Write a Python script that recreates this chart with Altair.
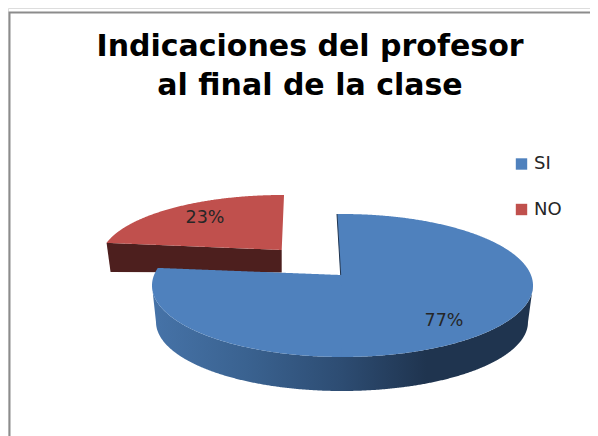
import math
import altair as alt
import pandas as pd
import numpy as np

# ---- chart content
title_lines = ["Indicaciones del profesor", "al final de la clase"]
categories = ["SI", "NO"]
percent_values = [77, 23]
colors = ["#4F81BD", "#C0504D"]
text_color = "#262626"

# ---- 3D pie layout, in the scale's own units
W, H = 582, 428
x_scale = alt.Scale(domain=[8, 8 + W], nice=False, zero=False)
y_scale = alt.Scale(domain=[8 + H, 8], nice=False, zero=False)


def ell_hit(ell, apex, a_deg):
    cx, cy, rx, ry = ell
    a = math.radians(a_deg)
    dx, dy = math.sin(a), -math.cos(a) * ry / rx
    ox, oy = (apex[0] - cx) / rx, (apex[1] - cy) / ry
    ux, uy = dx / rx, dy / ry
    A = ux * ux + uy * uy
    B = 2 * (ox * ux + oy * uy)
    C = ox * ox + oy * oy - 1
    t = (-B + math.sqrt(B * B - 4 * A * C)) / (2 * A)
    return apex[0] + t * dx, apex[1] + t * dy


def half(ell, x, sign):
    cx, cy, rx, ry = ell
    u = np.clip((np.asarray(x, dtype=float) - cx) / rx, -1, 1)
    return cy + sign * ry * np.sqrt(1 - u * u)


def line_y(p, q, x):
    return p[1] + (q[1] - p[1]) * (np.asarray(x, dtype=float) - p[0]) / (q[0] - p[0])


def xs_between(ell, a, b, extra=()):
    cx, _, rx, _ = ell
    t = np.linspace(0, math.pi, 500)
    xx = cx - rx * np.cos(t)
    xx = xx[(xx > a) & (xx < b)]
    return np.unique(np.concatenate([[a, b], xx, list(extra)]))


def frame(x, y, y2):
    return pd.DataFrame({"x": x, "y": y, "y2": y2})


def area(df, paint):
    return alt.Chart(df).mark_area(color=paint, interpolate="linear", stroke=None).encode(
        x=alt.X("x:Q", scale=x_scale, axis=None),
        y=alt.Y("y:Q", scale=y_scale, axis=None),
        y2="y2:Q",
    )


span_si = 360 * percent_values[0] / 100
span_no = 360 * percent_values[1] / 100

# SI slice
si_ell = (342.5, 285.5, 190.5, 71.5)
si_apex = (340.7, 275.0)
si_start = ell_hit(si_ell, si_apex, -1.3)
si_end = ell_hit(si_ell, si_apex, -1.3 + span_si)
si_left, si_right = si_ell[0] - si_ell[2], si_ell[0] + si_ell[2]

xa = xs_between(si_ell, si_start[0], si_right, [si_apex[0], si_apex[0] + 0.01])
si_a = frame(xa, half(si_ell, xa, -1),
             np.where(xa <= si_apex[0], line_y(si_apex, si_start, xa), half(si_ell, xa, 1)))
xb = xs_between(si_ell, si_left, si_apex[0] + 0.5, [si_end[0]])
si_b = frame(xb, np.where(xb < si_end[0], half(si_ell, xb, -1), line_y(si_apex, si_end, xb)),
             half(si_ell, xb, 1))

si_floor = (342.0, 322.0, 186.0, 69.0)
xw = xs_between(si_ell, si_left, si_right, [si_floor[0] - si_floor[2], si_floor[0] + si_floor[2]])
floor_y = half(si_floor, xw, 1)
floor_y = np.where(xw < si_floor[0] - si_floor[2],
                   line_y((si_left, si_ell[1]), (si_floor[0] - si_floor[2], si_floor[1]), xw), floor_y)
floor_y = np.where(xw > si_floor[0] + si_floor[2],
                   line_y((si_right, si_ell[1]), (si_floor[0] + si_floor[2], si_floor[1]), xw), floor_y)
si_wall = frame(xw, half(si_ell, xw, 1), floor_y)

wall_gradient = alt.Gradient(
    gradient="linear", x1=0, x2=1, y1=0, y2=0,
    stops=[
        alt.GradientStop(color="#4673A8", offset=0),
        alt.GradientStop(color="#3A6290", offset=0.25),
        alt.GradientStop(color="#2D4C72", offset=0.5),
        alt.GradientStop(color="#1F344F", offset=0.72),
        alt.GradientStop(color="#1F344F", offset=1),
    ],
)

# NO slice (pulled out)
no_ell = (282.4, 259.5, 182.0, 64.5)
no_apex = (281.7, 250.0)
no_start = ell_hit(no_ell, no_apex, 360.86)
no_end = ell_hit(no_ell, no_apex, 360.86 - span_no - 1.5)
xr = xs_between(no_ell, no_end[0], no_start[0], [no_apex[0]])
no_top = frame(xr, half(no_ell, xr, -1),
               np.where(xr <= no_apex[0], line_y(no_apex, no_end, xr), line_y(no_apex, no_start, xr)))

no_wall_x = np.array([no_end[0], no_end[0] + 4, no_apex[0]])
no_wall = frame(no_wall_x, line_y(no_apex, no_end, no_wall_x),
                [line_y(no_apex, no_end, no_end[0]), 272.0, 272.5])

edge = pd.DataFrame({"x": [si_start[0], si_apex[0]], "y": [si_start[1], si_apex[1]]})
edge_line = alt.Chart(edge).mark_line(color="#1F344F", strokeWidth=1).encode(
    x=alt.X("x:Q", scale=x_scale, axis=None), y=alt.Y("y:Q", scale=y_scale, axis=None))

# frame of the chart
border = pd.DataFrame({"x": [9.5, 9.5, 8 + W], "y": [8 + H, 12.5, 12.5], "o": [0, 1, 2]})
border_line = alt.Chart(border).mark_line(color="#8C8C8C", strokeWidth=2).encode(
    x=alt.X("x:Q", scale=x_scale, axis=None), y=alt.Y("y:Q", scale=y_scale, axis=None),
    order=alt.Order("o:Q"))

# title
title_df = pd.DataFrame({"t": title_lines, "x": [310, 310], "y": [56, 95]})
title_text = alt.Chart(title_df).mark_text(
    font="DejaVu Sans", fontSize=30, fontWeight="bold", color="#000000", align="center", baseline="alphabetic"
).encode(x=alt.X("x:Q", scale=x_scale, axis=None), y=alt.Y("y:Q", scale=y_scale, axis=None), text="t:N")

# percent labels
labels = pd.DataFrame({
    "x": [444, 205], "y": [321, 218],
    "t": [f"{v}%" for v in percent_values],
})
label_text = alt.Chart(labels).mark_text(
    font="DejaVu Sans", fontSize=17.5, color=text_color, align="center", baseline="middle"
).encode(x=alt.X("x:Q", scale=x_scale, axis=None), y=alt.Y("y:Q", scale=y_scale, axis=None), text="t:N")

# legend
legend = pd.DataFrame({"cat": categories, "x": [521.5, 521.5], "y": [164, 209.5], "tx": [534, 534], "c": colors})
legend_marks = alt.Chart(legend).mark_square(size=130, opacity=1).encode(
    x=alt.X("x:Q", scale=x_scale, axis=None), y=alt.Y("y:Q", scale=y_scale, axis=None),
    color=alt.Color("c:N", scale=None))
legend_text = alt.Chart(legend).mark_text(
    font="DejaVu Sans", fontSize=18, color=text_color, align="left", baseline="middle"
).encode(x=alt.X("tx:Q", scale=x_scale, axis=None), y=alt.Y("y:Q", scale=y_scale, axis=None), text="cat:N")

chart = alt.layer(
    border_line,
    title_text,
    area(no_wall, "#4D1F1E"),
    area(no_top, colors[1]),
    area(si_wall, wall_gradient),
    area(si_a, colors[0]),
    area(si_b, colors[0]),
    edge_line,
    label_text,
    legend_marks,
    legend_text,
).properties(
    width=W, height=H,
    padding=0,
    autosize=alt.AutoSizeParams(type="none"),
).configure_view(stroke=None).configure(background="white")

chart.save("out.html", embed_options={"renderer": "svg", "actions": False})
